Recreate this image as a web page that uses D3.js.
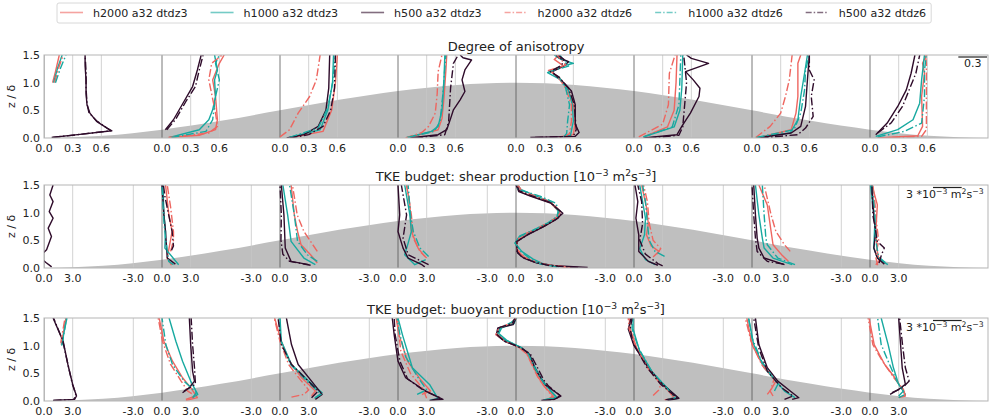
<!DOCTYPE html>
<html>
<head>
<meta charset="utf-8">
<script src="https://cdn.jsdelivr.net/npm/d3@7"></script>
<style>
  body { margin: 0; background: #fff; }
  svg { display: block; }
  text { font-family: "DejaVu Sans", sans-serif; fill: #222; }
</style>
</head>
<body>
<svg id="chart" width="991" height="417"></svg>
<script>
// ---------------------------------------------------------------
// Profile stations along the hill (hill half-width = 4 units)
// ---------------------------------------------------------------
const stations = [0, 1, 2, 3, 4, 5, 6, 7];

// Hill outline (z/δ) sampled along x
const hillX = [0, 0.5, 1, 1.5, 2, 2.5, 3, 3.5, 4, 4.5, 5, 5.5, 6, 6.5, 7, 7.5, 8];
const hillZ = [0, 0.04, 0.15, 0.31, 0.5, 0.69, 0.85, 0.96, 1.0, 0.96, 0.85, 0.69, 0.5, 0.31, 0.15, 0.04, 0];

const zTicks = [0, 0.5, 1.0, 1.5];
const anisoTicks = [0, 0.3, 0.6];
const tkeTicks = [-3, 0, 3];

const seriesLabels = ["h2000 a32 dtdz3", "h1000 a32 dtdz3", "h500 a32 dtdz3",
                      "h2000 a32 dtdz6", "h1000 a32 dtdz6", "h500 a32 dtdz6"];
const seriesColors = ["#ee6660", "#17a9a0", "#2e0b2a", "#ee6660", "#17a9a0", "#2e0b2a"];
const seriesDashed = [false, false, false, true, true, true];

// ---------------------------------------------------------------
// Degree of anisotropy: per station, [value, z/δ] from bottom up
// ---------------------------------------------------------------
const anisoH2000D3 = [
  [[0.09,1.0],[0.12,1.2],[0.16,1.5]],
  [[0.07,0.01],[0.39,0.05],[0.56,0.15],[0.58,0.33],[0.56,0.75],[0.53,1.05],[0.6,1.35],[0.65,1.5]],
  [[0.12,0.01],[0.45,0.12],[0.54,0.5],[0.58,1.0],[0.6,1.5]],
  [[0.12,0.01],[0.42,0.15],[0.46,0.35],[0.48,0.7],[0.5,1.2],[0.51,1.5]],
  [[0.45,0.02],[0.6,0.06],[0.62,0.3],[0.6,0.6],[0.54,0.9],[0.45,1.1],[0.34,1.22],[0.5,1.3],[0.4,1.42],[0.45,1.5]],
  [[0.1,0.02],[0.35,0.2],[0.42,0.5],[0.44,1.0],[0.45,1.5]],
  [[0.05,0.0],[0.41,0.15],[0.46,0.45],[0.48,0.75],[0.48,1.35],[0.51,1.5]],
  [[0.08,0.0],[0.5,0.04],[0.55,0.21],[0.54,0.75],[0.57,1.17],[0.55,1.35],[0.59,1.5]]
];
const anisoH1000D3 = [
  [[0.1,1.0],[0.14,1.25],[0.19,1.5]],
  [[0.08,0.01],[0.39,0.15],[0.49,0.33],[0.53,0.51],[0.56,0.75],[0.55,1.05],[0.58,1.23],[0.55,1.5]],
  [[0.1,0.01],[0.42,0.15],[0.5,0.5],[0.55,1.0],[0.56,1.5]],
  [[0.09,0.01],[0.35,0.12],[0.42,0.21],[0.46,0.5],[0.48,1.0],[0.49,1.5]],
  [[0.48,0.02],[0.57,0.05],[0.6,0.3],[0.59,0.6],[0.55,0.85],[0.47,1.05],[0.33,1.18],[0.45,1.28],[0.6,1.35],[0.47,1.42],[0.4,1.5]],
  [[0.1,0.02],[0.42,0.2],[0.48,0.5],[0.5,0.9],[0.51,1.5]],
  [[0.04,0.01],[0.4,0.09],[0.48,0.33],[0.51,0.75],[0.55,1.17],[0.58,1.5]],
  [[0.06,0.03],[0.29,0.15],[0.45,0.33],[0.52,0.63],[0.54,1.05],[0.57,1.5]]
];
const anisoH500D3 = [
  [[0.08,0.01],[0.4,0.07],[0.71,0.13],[0.66,0.18],[0.55,0.3],[0.48,0.45],[0.45,0.6],[0.44,0.8],[0.44,1.05],[0.43,1.3],[0.43,1.5]],
  [[0.035,0.15],[0.12,0.33],[0.23,0.66],[0.32,0.93],[0.37,1.23],[0.41,1.5]],
  [[0.07,0.0],[0.25,0.06],[0.4,0.21],[0.48,0.5],[0.51,0.9],[0.52,1.5]],
  [[0.12,0.0],[0.42,0.06],[0.51,0.15],[0.55,0.35],[0.58,0.51],[0.65,0.69],[0.7,0.84],[0.67,1.05],[0.7,1.23],[0.77,1.41],[0.68,1.45],[0.65,1.5]],
  [[0.15,0.01],[0.62,0.03],[0.66,0.1],[0.62,0.25],[0.62,0.6],[0.58,0.85],[0.5,1.0],[0.42,1.12],[0.38,1.2],[0.5,1.3],[0.55,1.38],[0.45,1.45],[0.42,1.5]],
  [[0.1,0.0],[0.45,0.06],[0.5,0.21],[0.59,0.45],[0.68,0.75],[0.69,0.9],[0.62,1.05],[0.54,1.2],[0.78,1.35],[0.6,1.44],[0.55,1.5]],
  [[0.05,0.0],[0.41,0.09],[0.51,0.21],[0.56,0.57],[0.58,1.05],[0.6,1.5]],
  [[0.06,0.06],[0.18,0.27],[0.29,0.57],[0.38,0.87],[0.43,1.17],[0.47,1.5]]
];
const anisoH2000D6 = [
  [[0.11,1.0],[0.15,1.25],[0.2,1.5]],
  [[0.07,0.01],[0.49,0.09],[0.58,0.21],[0.56,0.45],[0.49,1.05],[0.52,1.35],[0.63,1.5]],
  [[0.0,0.02],[0.1,0.15],[0.19,0.45],[0.31,0.75],[0.38,1.05],[0.42,1.5]],
  [[0.08,0.0],[0.25,0.1],[0.32,0.21],[0.39,0.45],[0.41,0.8],[0.42,1.2],[0.46,1.5]],
  [[0.5,0.02],[0.56,0.08],[0.58,0.3],[0.58,0.6],[0.52,0.9],[0.44,1.1],[0.36,1.22],[0.52,1.32],[0.43,1.5]],
  [[0.05,0.02],[0.3,0.25],[0.36,0.6],[0.37,1.17],[0.43,1.5]],
  [[0.04,0.01],[0.19,0.21],[0.3,0.45],[0.35,0.75],[0.39,1.05],[0.42,1.5]],
  [[0.08,0.0],[0.54,0.03],[0.59,0.15],[0.59,0.75],[0.59,1.35],[0.58,1.5]]
];
const anisoH1000D6 = [
  [[0.12,1.0],[0.17,1.25],[0.23,1.5]],
  [[0.1,0.01],[0.46,0.12],[0.53,0.33],[0.56,0.75],[0.6,1.05],[0.56,1.35],[0.6,1.5]],
  [[0.1,0.01],[0.4,0.18],[0.5,0.55],[0.55,1.0],[0.58,1.5]],
  [[0.1,0.01],[0.38,0.12],[0.44,0.3],[0.47,0.8],[0.5,1.5]],
  [[0.5,0.02],[0.53,0.08],[0.54,0.3],[0.56,0.6],[0.52,0.9],[0.45,1.1],[0.35,1.2],[0.55,1.3],[0.5,1.4],[0.46,1.5]],
  [[0.1,0.02],[0.4,0.2],[0.47,0.6],[0.49,1.5]],
  [[0.05,0.01],[0.44,0.15],[0.51,0.45],[0.55,0.87],[0.56,1.23],[0.6,1.5]],
  [[0.08,0.02],[0.36,0.12],[0.54,0.27],[0.57,0.75],[0.57,1.23],[0.59,1.5]]
];
const anisoH500D6 = [
  [[0.09,0.01],[0.4,0.07],[0.7,0.13],[0.65,0.19],[0.55,0.31],[0.47,0.46],[0.45,0.62],[0.44,0.9],[0.44,1.2],[0.43,1.5]],
  [[0.05,0.15],[0.14,0.33],[0.25,0.66],[0.35,0.93],[0.39,1.23],[0.43,1.5]],
  [[0.1,0.0],[0.3,0.06],[0.45,0.21],[0.53,0.5],[0.57,0.9],[0.58,1.5]],
  [[0.18,0.0],[0.49,0.06],[0.53,0.3],[0.55,0.9],[0.58,1.35],[0.63,1.5]],
  [[0.2,0.01],[0.6,0.03],[0.63,0.15],[0.61,0.6],[0.55,0.9],[0.45,1.1],[0.36,1.2],[0.48,1.32],[0.5,1.42],[0.44,1.5]],
  [[0.15,0.0],[0.47,0.05],[0.51,0.2],[0.53,0.6],[0.55,1.0],[0.52,1.5]],
  [[0.09,0.0],[0.48,0.06],[0.56,0.18],[0.64,0.39],[0.62,0.75],[0.65,1.05],[0.6,1.23],[0.6,1.5]],
  [[0.08,0.09],[0.22,0.27],[0.34,0.57],[0.41,0.87],[0.48,1.17],[0.52,1.5]]
];

// ---------------------------------------------------------------
// TKE shear production [1e-3 m2 s-3]
// ---------------------------------------------------------------
const shearH2000D3 = [
  [],
  [[1.0,0.05],[0.55,0.18],[1.06,0.66],[0.72,0.96],[0.5,1.3],[0.37,1.5]],
  [[3.9,0.09],[3.2,0.24],[2.2,0.42],[1.84,0.66],[1.5,0.96],[1.16,1.5]],
  [[2.8,0.21],[2.1,0.36],[1.4,0.66],[1.24,1.14],[0.9,1.5]],
  [[5.8,0.01],[3.5,0.05],[1.8,0.12],[0.6,0.22],[0.1,0.35],[0.1,0.5],[1.5,0.64],[3.1,0.77],[4.3,0.9],[4.6,1.0],[3.6,1.18],[1.6,1.3],[0.4,1.38],[0.1,1.5]],
  [[2.0,0.2],[2.6,0.3],[1.8,0.4],[1.3,0.6],[1.5,0.8],[1.3,1.1],[0.8,1.5]],
  [[3.8,0.12],[3.1,0.24],[2.2,0.42],[2.0,0.66],[1.6,1.14],[0.72,1.5]],
  [[0.6,0.06],[0.95,0.12],[0.77,0.3],[0.6,0.66],[0.77,1.14],[0.2,1.5]]
];
const shearH1000D3 = [
  [],
  [[1.74,0.06],[0.3,0.36],[0.37,0.66],[0.2,0.96],[0.1,1.5]],
  [[3.7,0.06],[2.5,0.18],[1.16,0.48],[0.8,0.96],[0.3,1.5]],
  [[2.9,0.15],[1.76,0.06],[0.7,0.24],[1.06,0.45],[1.4,0.66],[1.24,0.96],[0.7,1.5]],
  [[4.5,0.02],[2.8,0.08],[1.8,0.16],[0.6,0.3],[-0.1,0.45],[0.3,0.56],[1.8,0.68],[3.2,0.8],[4.3,0.92],[4.5,1.02],[3.6,1.2],[1.8,1.32],[0.5,1.42],[0.2,1.5]],
  [[2.2,0.06],[1.2,0.15],[0.6,0.35],[1.1,0.6],[1.2,0.9],[0.9,1.2],[0.6,1.5]],
  [[4.2,0.06],[2.2,0.18],[1.27,0.36],[1.08,0.54],[0.72,0.96],[0.36,1.5]],
  [[1.87,0.06],[0.77,0.18],[0.4,0.36],[0.5,0.8],[0.4,0.96],[0.05,1.5]]
];
const shearH500D3 = [
  [[0.8,0.02],[0.2,0.1],[-0.5,0.2],[0.27,0.33],[0.78,0.57],[0.44,0.72],[0.95,0.9],[0.55,1.02],[0.95,1.2],[0.61,1.32],[0.95,1.5]],
  [[1.4,0.07],[0.55,0.18],[0.37,0.66],[0.2,0.96],[0.0,1.5]],
  [[3.0,0.06],[1.16,0.12],[0.55,0.36],[0.41,0.96],[0.14,1.5]],
  [[2.8,0.02],[2.5,0.06],[1.06,0.18],[0.53,0.36],[0.0,0.66],[0.18,0.96],[0.0,1.5]],
  [[7.5,0.01],[4.0,0.04],[2.2,0.09],[0.8,0.18],[0.17,0.27],[0.0,0.47],[1.2,0.6],[2.8,0.74],[4.2,0.88],[4.9,0.99],[3.7,1.17],[1.5,1.3],[0.3,1.38],[0.0,1.5]],
  [[2.5,0.05],[1.5,0.12],[0.5,0.3],[0.5,0.6],[0.2,0.9],[0.4,1.2],[0.1,1.5]],
  [[3.4,0.06],[1.27,0.18],[0.72,0.36],[0.54,0.54],[0.36,0.96],[0.18,1.5]],
  [[1.5,0.07],[0.77,0.18],[0.4,0.36],[0.6,0.66],[0.4,0.96],[0.2,1.5]]
];
const shearH2000D6 = [
  [],
  [[0.9,0.3],[1.2,0.5],[1.2,0.66],[0.9,1.1],[0.55,1.5]],
  [[3.9,0.3],[3.2,0.48],[2.5,0.66],[1.8,0.96],[1.3,1.5]],
  [[3.0,0.18],[2.3,0.3],[1.6,0.54],[1.4,0.96],[0.9,1.5]],
  [[5.2,0.02],[3.2,0.06],[1.5,0.14],[0.4,0.26],[0.0,0.42],[0.4,0.57],[2.0,0.7],[3.4,0.82],[4.4,0.93],[4.6,1.02],[3.8,1.18],[2.0,1.3],[0.6,1.4],[0.2,1.5]],
  [[2.4,0.25],[2.8,0.35],[2.0,0.5],[1.6,0.8],[1.4,1.2],[1.0,1.5]],
  [[4.0,0.3],[3.4,0.42],[2.5,0.66],[2.0,0.96],[1.27,1.5]],
  [[0.8,0.05],[0.6,0.2],[0.9,0.5],[0.7,0.8],[0.5,1.2],[0.3,1.5]]
];
const shearH1000D6 = [
  [],
  [[1.2,0.06],[0.7,0.12],[0.37,0.54],[0.2,0.84],[0.0,1.5]],
  [[3.9,0.12],[2.86,0.24],[1.84,0.48],[1.5,0.96],[1.0,1.5]],
  [[3.2,0.21],[2.3,0.36],[1.6,0.66],[1.3,0.96],[1.06,1.5]],
  [[4.3,0.02],[2.6,0.07],[1.6,0.15],[0.5,0.3],[-0.1,0.45],[0.4,0.58],[2.0,0.7],[3.4,0.82],[4.3,0.93],[4.4,1.03],[4.2,1.17],[2.5,1.3],[0.2,1.42],[0.1,1.5]],
  [[3.2,0.21],[2.2,0.3],[1.6,0.5],[1.4,0.8],[1.2,1.2],[0.9,1.5]],
  [[4.5,0.06],[2.7,0.18],[1.6,0.42],[1.45,0.54],[1.27,0.96],[1.08,1.5]],
  [[1.6,0.1],[0.9,0.2],[0.6,0.5],[0.5,1.0],[0.2,1.5]]
];
const shearH500D6 = [
  [],
  [[1.0,0.32],[1.2,0.4],[1.06,0.66],[0.7,0.96],[0.3,1.3],[0.15,1.5]],
  [[3.2,0.05],[1.0,0.12],[0.3,0.25],[0.1,0.5],[0.14,0.96],[0.0,1.5]],
  [[3.2,0.06],[1.06,0.24],[0.53,0.54],[0.9,0.96],[0.35,1.5]],
  [[6.5,0.01],[3.6,0.04],[2.0,0.1],[0.6,0.2],[0.1,0.3],[0.1,0.48],[1.4,0.62],[3.0,0.76],[4.4,0.9],[4.8,1.0],[3.5,1.19],[1.4,1.32],[0.3,1.4],[0.1,1.5]],
  [[3.0,0.04],[2.5,0.08],[1.2,0.25],[0.6,0.5],[0.9,0.8],[0.8,1.2],[0.4,1.5]],
  [[3.3,0.07],[1.6,0.12],[0.54,0.3],[0.36,0.54],[0.18,0.96],[0.0,1.5]],
  [[0.95,0.09],[1.2,0.24],[1.5,0.36],[0.77,0.48],[0.3,0.96],[0.2,1.5]]
];

// ---------------------------------------------------------------
// TKE buoyant production [1e-3 m2 s-3]
// ---------------------------------------------------------------
const buoyH2000D3 = [
  [[1.8,1.02],[2.0,1.2],[2.3,1.5]],
  [[2.5,0.01],[3.7,0.06],[3.0,0.24],[2.15,0.42],[1.1,0.72],[0.2,1.08],[-0.3,1.5]],
  [[3.3,0.09],[3.7,0.18],[2.26,0.42],[1.0,0.72],[0.14,1.08],[-0.56,1.5]],
  [[2.5,0.12],[3.4,0.18],[2.3,0.4],[1.0,0.72],[0.1,1.2],[-0.2,1.5]],
  [[3.1,0.02],[4.0,0.07],[2.8,0.3],[2.3,0.44],[1.7,0.66],[1.2,0.84],[0.4,0.96],[-1.2,1.1],[-2.0,1.22],[-1.7,1.32],[-0.4,1.4],[0.0,1.5]],
  [[3.2,0.02],[4.2,0.06],[3.0,0.3],[1.6,0.58],[0.3,0.95],[-0.4,1.3],[-0.5,1.5]],
  [[1.6,0.12],[2.0,0.21],[2.5,0.36],[1.08,0.66],[0.0,1.02],[-0.54,1.5]],
  [[3.0,0.06],[3.7,0.09],[3.5,0.18],[2.6,0.42],[1.54,0.66],[0.44,1.02],[-0.1,1.5]]
];
const buoyH1000D3 = [
  [[1.85,1.0],[2.1,1.25],[2.4,1.5]],
  [[3.2,0.06],[3.74,0.12],[3.0,0.36],[2.15,0.72],[1.45,1.08],[0.74,1.5]],
  [[3.7,0.06],[4.4,0.15],[3.0,0.36],[1.2,0.66],[0.14,1.08],[0.0,1.5]],
  [[3.4,0.02],[4.2,0.04],[3.3,0.3],[1.5,0.6],[0.46,1.2],[0.0,1.5]],
  [[3.0,0.02],[4.3,0.06],[3.2,0.27],[2.6,0.42],[1.9,0.64],[1.4,0.84],[0.6,0.96],[-1.0,1.1],[-1.8,1.22],[-1.5,1.32],[-0.2,1.4],[0.0,1.5]],
  [[3.6,0.02],[4.6,0.05],[3.4,0.25],[2.0,0.5],[0.6,0.9],[-0.1,1.3],[-0.1,1.5]],
  [[4.5,0.06],[3.4,0.18],[2.5,0.36],[1.27,0.6],[0.18,1.02],[-0.36,1.5]],
  [[3.0,0.06],[3.7,0.12],[3.0,0.3],[2.45,0.6],[1.9,1.02],[1.17,1.5]]
];
const buoyH500D3 = [
  [[0.95,0.01],[3.2,0.03],[3.4,0.09],[3.0,0.3],[2.5,0.66],[2.0,1.08],[0.95,1.5]],
  [[2.15,0.15],[2.86,0.24],[3.4,0.36],[3.2,0.54],[3.0,1.02],[2.86,1.5]],
  [[3.7,0.03],[4.4,0.12],[3.3,0.36],[1.9,0.66],[1.2,1.02],[0.67,1.5]],
  [[3.3,0.01],[4.7,0.03],[2.9,0.18],[0.8,0.42],[0.0,0.72],[-0.4,1.2],[-0.6,1.5]],
  [[2.65,0.01],[4.0,0.03],[4.7,0.09],[3.0,0.3],[1.95,0.6],[1.43,0.84],[0.56,0.96],[-1.2,1.08],[-2.06,1.2],[-1.9,1.32],[-0.3,1.38],[0.0,1.5]],
  [[3.5,0.01],[4.7,0.05],[3.0,0.3],[1.5,0.6],[0.0,1.0],[-0.6,1.3],[-0.3,1.5]],
  [[4.2,0.03],[4.9,0.06],[4.0,0.18],[2.7,0.36],[1.6,0.6],[0.72,1.02],[0.36,1.5]],
  [[2.1,0.12],[3.0,0.21],[3.7,0.3],[3.37,0.6],[3.2,1.02],[3.0,1.5]]
];
const buoyH2000D6 = [
  [[1.75,1.05],[2.2,1.5]],
  [[2.5,0.03],[3.5,0.09],[2.7,0.18],[2.0,0.36],[0.9,0.66],[0.05,1.08],[-0.4,1.5]],
  [[1.2,0.07],[2.5,0.12],[3.0,0.2],[2.1,0.39],[0.9,0.66],[0.0,1.08],[-0.6,1.5]],
  [[3.0,0.05],[2.6,0.22],[1.3,0.5],[0.3,0.9],[-0.1,1.5]],
  [[3.2,0.02],[3.8,0.08],[2.7,0.32],[2.2,0.46],[1.6,0.68],[1.1,0.86],[0.3,0.97],[-1.3,1.1],[-2.1,1.2],[-1.8,1.32],[-0.6,1.4],[0.0,1.5]],
  [[2.0,0.1],[2.6,0.2],[2.8,0.3],[1.5,0.58],[0.2,0.98],[-0.5,1.3],[-0.6,1.5]],
  [[2.2,0.09],[1.9,0.18],[2.3,0.39],[1.0,0.66],[-0.1,1.08],[-0.7,1.5]],
  [[3.7,0.09],[3.5,0.21],[2.5,0.42],[1.3,0.72],[0.3,1.02],[-0.2,1.5]]
];
const buoyH1000D6 = [
  [[1.9,1.02],[2.35,1.5]],
  [[3.2,0.06],[3.6,0.15],[2.3,0.36],[1.1,0.66],[0.4,1.02],[0.0,1.5]],
  [[3.6,0.05],[4.3,0.12],[2.8,0.36],[1.1,0.66],[0.1,1.08],[-0.1,1.5]],
  [[2.0,0.12],[3.0,0.2],[2.0,0.45],[0.8,0.8],[0.2,1.2],[-0.1,1.5]],
  [[2.9,0.02],[4.2,0.07],[3.1,0.28],[2.5,0.43],[1.8,0.65],[1.3,0.85],[0.5,0.97],[-1.1,1.1],[-1.9,1.22],[-1.6,1.33],[-0.5,1.42],[0.1,1.5]],
  [[3.5,0.03],[4.3,0.06],[3.2,0.28],[1.8,0.55],[0.5,0.95],[-0.2,1.3],[-0.2,1.5]],
  [[2.35,0.18],[2.7,0.3],[2.2,0.42],[1.0,0.72],[0.0,1.14],[-0.36,1.5]],
  [[3.0,0.09],[3.5,0.18],[2.8,0.36],[1.9,0.72],[1.17,1.02],[0.8,1.5]]
];
const buoyH500D6 = [
  [[1.0,0.01],[3.1,0.03],[3.35,0.1],[2.95,0.32],[2.45,0.7],[1.95,1.1],[1.0,1.5]],
  [[2.3,0.18],[3.05,0.26],[3.5,0.3],[3.4,0.6],[3.2,1.02],[3.05,1.5]],
  [[3.3,0.06],[4.0,0.18],[2.6,0.42],[1.2,0.66],[0.14,1.02],[-0.2,1.5]],
  [[3.6,0.02],[4.5,0.05],[2.6,0.2],[1.0,0.4],[0.2,0.72],[-0.3,1.2],[-0.4,1.5]],
  [[2.8,0.01],[4.1,0.03],[4.6,0.1],[3.4,0.27],[2.9,0.38],[2.2,0.62],[1.5,0.85],[0.4,0.97],[-1.3,1.09],[-2.0,1.2],[-1.7,1.33],[-0.4,1.4],[-0.1,1.5]],
  [[3.3,0.02],[4.5,0.06],[2.8,0.3],[1.3,0.62],[-0.1,1.05],[-0.4,1.3],[-0.2,1.5]],
  [[3.4,0.03],[4.3,0.09],[3.1,0.24],[1.6,0.54],[0.7,0.96],[0.18,1.5]],
  [[2.3,0.15],[3.4,0.24],[4.1,0.36],[3.7,0.6],[3.4,1.02],[3.1,1.5]]
];

// ---------------------------------------------------------------
// Panel definitions
// ---------------------------------------------------------------
const sup = s => ({ t: s, sup: true });
const panels = [
  { title: [{ t: "Degree of anisotropy" }],
    series: [anisoH2000D3, anisoH1000D3, anisoH500D3, anisoH2000D6, anisoH1000D6, anisoH500D6],
    ticks: anisoTicks, k: 0.81,
    scaleLen: 0.3, scaleText: [{ t: "0.3" }] },
  { title: [{ t: "TKE budget: shear production [10" }, sup("\u22123"), { t: " m" }, sup("2"), { t: "s" }, sup("\u22123"), { t: "]" }],
    series: [shearH2000D3, shearH1000D3, shearH500D3, shearH2000D6, shearH1000D6, shearH500D6],
    ticks: tkeTicks, k: 0.081,
    scaleLen: 3, scaleText: [{ t: "3 *10" }, sup("\u22123"), { t: " m" }, sup("2"), { t: "s" }, sup("\u22123")] },
  { title: [{ t: "TKE budget: buoyant production [10" }, sup("\u22123"), { t: " m" }, sup("2"), { t: "s" }, sup("\u22123"), { t: "]" }],
    series: [buoyH2000D3, buoyH1000D3, buoyH500D3, buoyH2000D6, buoyH1000D6, buoyH500D6],
    ticks: tkeTicks, k: 0.081,
    scaleLen: 3, scaleText: [{ t: "3 *10" }, sup("\u22123"), { t: " m" }, sup("2"), { t: "s" }, sup("\u22123")] }
];

// ---------------------------------------------------------------
// Drawing
// ---------------------------------------------------------------
const svg = d3.select("#chart");
const left = 44, right = 988;
const panelTops = [55, 185, 318];
const panelH = 83;
const x = d3.scaleLinear().domain([0, 8]).range([left, right]);
const dashPattern = "8,2.5,1.5,2.5";

// rich text with superscripts
function richText(sel, parts, size) {
  parts.forEach((p, i) => {
    const ts = sel.append("tspan").text(p.t);
    if (p.sup) ts.attr("font-size", size * 0.7).attr("dy", -size * 0.38);
    else if (i > 0 && parts[i - 1].sup) ts.attr("dy", size * 0.38);
  });
}

const fmtLabel = v => (v < 0 ? "-" : "") + d3.format(".1f")(Math.abs(v));

panels.forEach((p, pi) => {
  const top = panelTops[pi], bottom = top + panelH;
  const y = d3.scaleLinear().domain([0, 1.5]).range([bottom, top]);
  const g = svg.append("g");

  const clipId = "panel-clip-" + pi;
  svg.append("clipPath").attr("id", clipId)
    .append("rect").attr("x", left).attr("y", top)
    .attr("width", right - left).attr("height", panelH);
  const body = g.append("g").attr("clip-path", `url(#${clipId})`);

  // hill silhouette
  body.append("path")
    .datum(d3.zip(hillX, hillZ))
    .attr("fill", "#bfbfbf")
    .attr("d", d3.area().x(d => x(d[0])).y0(y(0)).y1(d => y(d[1])).curve(d3.curveMonotoneX));

  // station grid lines and tick labels
  stations.forEach(s => {
    p.ticks.forEach(t => {
      const xv = s + t * p.k;
      if (xv < -1e-6 || xv > 8) return;
      body.append("line")
        .attr("x1", x(xv)).attr("x2", x(xv))
        .attr("y1", top).attr("y2", bottom)
        .attr("stroke", t === 0 ? "#555" : "#c8c8c8")
        .attr("stroke-width", 0.8);
      g.append("text")
        .attr("x", x(xv)).attr("y", bottom + 13.5)
        .attr("text-anchor", "middle")
        .attr("font-size", 11)
        .text(fmtLabel(t));
    });
  });

  // profiles
  p.series.forEach((arr, j) => {
    arr.forEach((prof, si) => {
      if (!prof.length) return;
      body.append("path")
        .datum(prof)
        .attr("fill", "none")
        .attr("stroke", seriesColors[j])
        .attr("stroke-width", 1.4)
        .attr("stroke-linejoin", "round")
        .attr("stroke-dasharray", seriesDashed[j] ? dashPattern : null)
        .attr("d", d3.line()
          .x(d => x(stations[si] + d[0] * p.k))
          .y(d => y(d[1])));
    });
  });

  // frame
  g.append("rect")
    .attr("x", left).attr("y", top)
    .attr("width", right - left).attr("height", panelH)
    .attr("fill", "none").attr("stroke", "#b5b5b5").attr("stroke-width", 1);

  // y axis
  const yAxis = g.append("g").attr("transform", `translate(${left},0)`)
    .call(d3.axisLeft(y).tickValues(zTicks).tickFormat(d3.format(".1f")).tickSize(0).tickPadding(4));
  yAxis.select(".domain").remove();
  yAxis.selectAll("text").attr("font-size", 11).attr("font-family", "DejaVu Sans, sans-serif").attr("fill", "#222");

  g.append("text")
    .attr("transform", `translate(15,${(top + bottom) / 2}) rotate(-90)`)
    .attr("text-anchor", "middle")
    .attr("font-size", 11)
    .text("z / \u03b4");

  // title
  const title = g.append("text")
    .attr("x", (left + right) / 2).attr("y", top - 4)
    .attr("text-anchor", "middle")
    .attr("font-size", 13);
  richText(title, p.title, 13);

  // scale bar in the upper right corner
  const barLen = x(p.scaleLen * p.k) - x(0);
  if (pi === 0) {
    g.append("line")
      .attr("x1", right - 1 - barLen).attr("x2", right - 1)
      .attr("y1", top + 2).attr("y2", top + 2)
      .attr("stroke", "#222").attr("stroke-width", 1.2);
    g.append("text")
      .attr("x", right - 1 - barLen / 2).attr("y", top + 12)
      .attr("text-anchor", "middle").attr("font-size", 11)
      .text("0.3");
  } else {
    const st = g.append("text")
      .attr("x", 906).attr("y", top + 13)
      .attr("font-size", 11);
    richText(st, p.scaleText, 11);
    g.append("line")
      .attr("x1", 933).attr("x2", 933 + barLen)
      .attr("y1", top + 2.5).attr("y2", top + 2.5)
      .attr("stroke", "#222").attr("stroke-width", 1.2);
  }
});

// ---------------------------------------------------------------
// Legend
// ---------------------------------------------------------------
const legend = svg.append("g");
const legendBox = legend.append("rect")
  .attr("y", 3).attr("height", 20).attr("rx", 2)
  .attr("fill", "#fff").attr("stroke", "#d8d8d8").attr("stroke-width", 1);
let lx = 60;
seriesLabels.forEach((lab, i) => {
  legend.append("line")
    .attr("x1", lx).attr("x2", lx + 23).attr("y1", 12.5).attr("y2", 12.5)
    .attr("stroke", seriesColors[i]).attr("stroke-width", 1.6)
    .attr("stroke-opacity", 0.6)
    .attr("stroke-dasharray", seriesDashed[i] ? "6,2,1.5,2" : null);
  const t = legend.append("text")
    .attr("x", lx + 33).attr("y", 16.5)
    .attr("font-size", 11.1)
    .text(lab);
  lx += 33 + t.node().getComputedTextLength() + (i < seriesLabels.length - 1 ? 23 : 0);
});
legendBox.attr("x", 57).attr("width", lx + 5 - 57);
</script>
</body>
</html>
